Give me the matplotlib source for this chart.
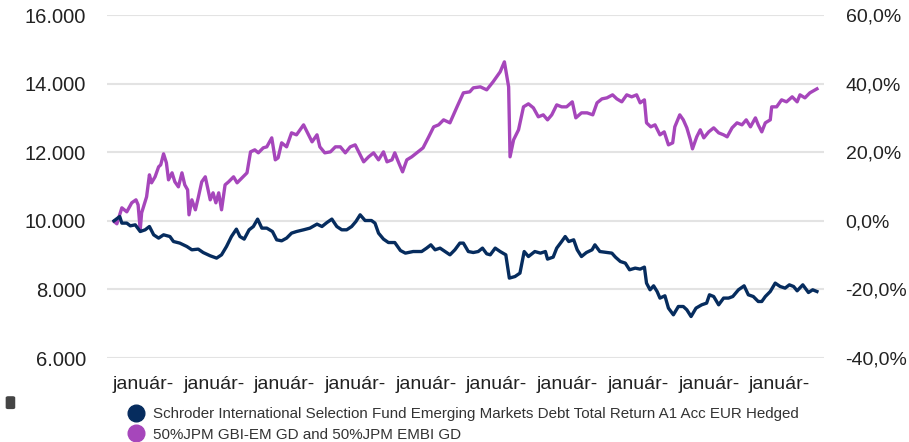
import matplotlib
matplotlib.use("Agg")
import matplotlib.pyplot as plt
from matplotlib.ticker import FuncFormatter
from matplotlib.patches import FancyBboxPatch

plt.rcParams['font.family'] = ['Liberation Sans', 'DejaVu Sans']

# fund (navy), decimal year -> value of 10.000 invested
fund_t = [2011.59, 2011.67, 2011.70, 2011.77, 2011.82, 2011.89, 2011.96, 2012.03, 2012.09, 2012.15,
          2012.22, 2012.29, 2012.38, 2012.43, 2012.52, 2012.62, 2012.69, 2012.78, 2012.85, 2012.95,
          2013.04, 2013.11, 2013.18, 2013.25, 2013.32, 2013.37, 2013.43, 2013.50, 2013.56, 2013.62,
          2013.68, 2013.75, 2013.83, 2013.89, 2013.96, 2014.03, 2014.10, 2014.17, 2014.27, 2014.36,
          2014.46, 2014.53, 2014.60, 2014.67, 2014.74, 2014.81, 2014.88, 2014.95, 2015.01, 2015.07,
          2015.14, 2015.23, 2015.28, 2015.33, 2015.40, 2015.47, 2015.56, 2015.64, 2015.71, 2015.82,
          2015.94, 2016.01, 2016.07, 2016.13, 2016.20, 2016.27, 2016.34, 2016.41, 2016.48, 2016.53,
          2016.60, 2016.67, 2016.74, 2016.80, 2016.86, 2016.91, 2016.98, 2017.05, 2017.13, 2017.18,
          2017.26, 2017.33, 2017.39, 2017.45, 2017.54, 2017.62, 2017.69, 2017.72, 2017.80, 2017.85,
          2017.92, 2017.97, 2018.02, 2018.09, 2018.14, 2018.20, 2018.27, 2018.35, 2018.39, 2018.46,
          2018.56, 2018.63, 2018.68, 2018.75, 2018.82, 2018.88, 2018.96, 2019.03, 2019.09, 2019.12,
          2019.17, 2019.22, 2019.27, 2019.31, 2019.38, 2019.43, 2019.50, 2019.57, 2019.64, 2019.69,
          2019.75, 2019.82, 2019.90, 2019.97, 2020.01, 2020.07, 2020.14, 2020.21, 2020.28, 2020.34,
          2020.42, 2020.50, 2020.56, 2020.63, 2020.70, 2020.75, 2020.80, 2020.87, 2020.94, 2021.01,
          2021.08, 2021.14, 2021.20, 2021.25, 2021.33, 2021.41, 2021.47, 2021.53]
fund_v = [10000, 10125, 9933, 9933, 9854, 9883, 9688, 9738, 9834, 9592,
          9496, 9592, 9542, 9397, 9350, 9251, 9155, 9175, 9076, 8980,
          8913, 9009, 9251, 9542, 9758, 9542, 9467, 9738, 9834, 10050,
          9787, 9787, 9688, 9446, 9417, 9496, 9641, 9688, 9738, 9787,
          9904, 9834, 9950, 10050, 9834, 9738, 9738, 9834, 9980, 10175,
          10009, 10009, 9933, 9641, 9467, 9367, 9367, 9134, 9058, 9105,
          9105, 9204, 9300, 9155, 9204, 9105, 9009, 9155, 9350, 9350,
          9105, 9076, 9105, 9204, 9038, 9009, 9204, 9105, 9009, 8330,
          8376, 8475, 9105, 8959, 9105, 9058, 9105, 8884, 8942, 9204,
          9397, 9542, 9397, 9446, 9155, 8959, 9076, 9155, 9300, 9105,
          9076, 9058, 8942, 8814, 8767, 8572, 8621, 8592, 8650, 8184,
          7989, 8105, 7939, 7747, 7814, 7455, 7260, 7502, 7502, 7406,
          7210, 7455, 7551, 7601, 7843, 7793, 7551, 7747, 7747, 7793,
          7989, 8105, 7843, 7793, 7648, 7648, 7793, 7939, 8184, 8085,
          8038, 8134, 8085, 7960, 8134, 7910, 7989, 7939]

# benchmark (purple)
bench_t = [2011.59, 2011.63, 2011.70, 2011.77, 2011.84, 2011.90, 2011.93, 2011.96, 2011.98, 2012.05,
           2012.09, 2012.12, 2012.17, 2012.22, 2012.25, 2012.29, 2012.33, 2012.36, 2012.41, 2012.45,
           2012.50, 2012.55, 2012.59, 2012.63, 2012.65, 2012.69, 2012.74, 2012.78, 2012.83, 2012.88,
           2012.91, 2012.95, 2012.99, 2013.03, 2013.07, 2013.11, 2013.16, 2013.21, 2013.28, 2013.33,
           2013.40, 2013.47, 2013.52, 2013.58, 2013.63, 2013.70, 2013.75, 2013.82, 2013.87, 2013.91,
           2013.96, 2014.03, 2014.10, 2014.17, 2014.27, 2014.32, 2014.39, 2014.46, 2014.50, 2014.57,
           2014.65, 2014.72, 2014.79, 2014.86, 2014.93, 2015.00, 2015.05, 2015.12, 2015.19, 2015.26,
           2015.33, 2015.40, 2015.45, 2015.52, 2015.56, 2015.61, 2015.67, 2015.73, 2015.80, 2015.87,
           2015.96, 2016.04, 2016.11, 2016.18, 2016.25, 2016.34, 2016.44, 2016.53, 2016.62, 2016.67,
           2016.77, 2016.86, 2016.95, 2017.05, 2017.11, 2017.17, 2017.19, 2017.24, 2017.31, 2017.38,
           2017.45, 2017.52, 2017.59, 2017.66, 2017.72, 2017.78, 2017.85, 2017.92, 2017.99, 2018.07,
           2018.12, 2018.20, 2018.28, 2018.36, 2018.42, 2018.49, 2018.56, 2018.64, 2018.70, 2018.77,
           2018.84, 2018.91, 2018.98, 2019.03, 2019.09, 2019.12, 2019.18, 2019.24, 2019.31, 2019.37,
           2019.43, 2019.49, 2019.52, 2019.59, 2019.64, 2019.69, 2019.74, 2019.77, 2019.83, 2019.88,
           2019.93, 2020.00, 2020.07, 2020.14, 2020.21, 2020.26, 2020.33, 2020.40, 2020.47, 2020.53,
           2020.59, 2020.66, 2020.70, 2020.75, 2020.80, 2020.87, 2020.89, 2020.96, 2021.03, 2021.10,
           2021.18, 2021.25, 2021.29, 2021.36, 2021.43, 2021.53]
bench_v = [9980, 9913, 10379, 10262, 10525, 10612, 10466, 9738, 10233, 10700,
           11341, 11108, 11283, 11574, 11632, 11953, 11691, 11195, 11399, 11137,
           10991, 11399, 11049, 10904, 10175, 10612, 10321, 10670, 11137, 11283,
           10991, 10612, 10816, 10525, 10816, 10321, 11049, 11137, 11283, 11108,
           11254, 11399, 12011, 12070, 11982, 12128, 12157, 12419, 11778, 11836,
           12274, 12157, 12565, 12507, 12798, 12594, 12303, 12507, 12157, 11982,
           12011, 12157, 12157, 11982, 12157, 12215, 12011, 11720, 11866, 11982,
           11778, 12011, 11720, 11778, 11982, 11720, 11428, 11778, 11866, 11982,
           12128, 12449, 12740, 12798, 12944, 12857, 13323, 13731, 13760, 13877,
           13906, 13819, 14052, 14343, 14635, 13906, 11866, 12361, 12653, 13323,
           13411, 13294, 13032, 13090, 12944, 13090, 13381, 13323, 13323, 13469,
           13002, 13148, 13148, 13090, 13440, 13556, 13585, 13673, 13556, 13469,
           13673, 13615, 13673, 13440, 13527, 12857, 12740, 12798, 12507, 12594,
           12215, 12274, 12740, 13090, 12944, 12711, 12361, 12099, 12449, 12653,
           12419, 12594, 12711, 12565, 12507, 12449, 12711, 12857, 12798, 12944,
           12740, 13002, 12798, 12594, 12857, 12944, 13323, 13323, 13527, 13469,
           13615, 13469, 13673, 13585, 13731, 13848]

tick_years = [2012, 2013, 2014, 2015, 2016, 2017, 2018, 2019, 2020, 2021]
tick_labels = ['január-'] * 10
left_ticks = [6000, 8000, 10000, 12000, 14000, 16000]
right_ticks = [-40, -20, 0, 20, 40, 60]

fund_name = 'Schroder International Selection Fund Emerging Markets Debt Total Return A1 Acc EUR Hedged'
bench_name = '50%JPM GBI-EM GD and 50%JPM EMBI GD'
navy = '#062c5e'
purple = '#a646bb'

fig = plt.figure(figsize=(9.09, 4.42), dpi=100)
ax = fig.add_axes([0.1177, 0.19, 0.7888, 0.776])

ax.plot(bench_t, bench_v, color=purple, lw=2.4, solid_joinstyle='round', zorder=3)
ax.plot(fund_t, fund_v, color=navy, lw=2.4, solid_joinstyle='round', zorder=4)

ax.set_xlim(2011.49, 2021.63)
ax.set_ylim(6000, 16000)
ax.set_yticks(left_ticks)
ax.yaxis.set_major_formatter(FuncFormatter(lambda v, p: f"{v:,.0f}".replace(',', '.')))
ax.set_xticks(tick_years)
ax.set_xticklabels(tick_labels)
ax.grid(axis='y', color='#e3e3e3', lw=1.5, zorder=0)
for s in ax.spines.values():
    s.set_visible(False)
ax.tick_params(axis='y', length=0, pad=15, labelsize=14.5, labelcolor='#222222')
ax.tick_params(axis='x', length=0, pad=13, labelsize=14, labelcolor='#222222')

ax2 = ax.twinx()
ax2.set_ylim(-40, 60)
ax2.set_yticks(right_ticks)
ax2.yaxis.set_major_formatter(FuncFormatter(lambda v, p: f"{v:.1f}%".replace('.', ',')))
for s in ax2.spines.values():
    s.set_visible(False)
ax2.tick_params(axis='y', length=0, pad=15.5, labelsize=14, labelcolor='#222222')

# legend below
h1 = plt.Line2D([], [], marker='o', ls='none', color=navy, markersize=12)
h2 = plt.Line2D([], [], marker='o', ls='none', color=purple, markersize=12)
fig.legend([h1, h2], [fund_name, bench_name], loc='upper left',
           bbox_to_anchor=(0.133, 0.093), frameon=False, fontsize=10.9,
           handletextpad=0.55, labelspacing=0.45, borderaxespad=0,
           handlelength=1.2, labelcolor='#333333')

# small glyph at bottom left
fig.patches.append(FancyBboxPatch((0.009, 0.078), 0.005, 0.022, boxstyle='round,pad=0.002',
                                  transform=fig.transFigure, color='#444444', figure=fig))

fig.savefig('out.png', dpi=100)
